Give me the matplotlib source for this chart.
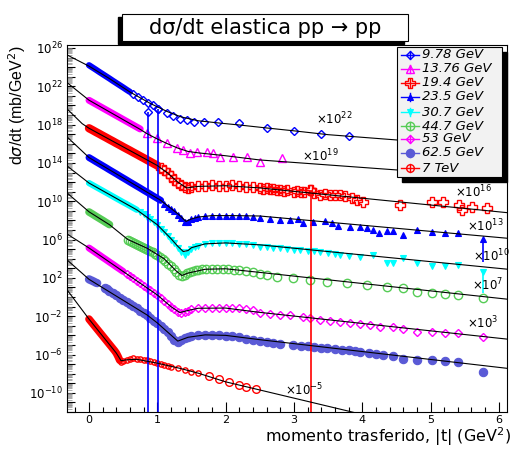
import numpy as np
import matplotlib
matplotlib.use('Agg')
import matplotlib.pyplot as plt
from matplotlib.patches import Rectangle
from matplotlib.lines import Line2D
from matplotlib.ticker import FixedLocator, FuncFormatter, MultipleLocator, LogLocator, NullFormatter

plt.rcParams['font.family'] = ['DejaVu Sans']
plt.rcParams['mathtext.fontset'] = 'dejavusans'

# ---------------- data (|t| in GeV^2, log10 of dsigma/dt incl. scale factor) ----
# 9.78 GeV
t_978_dense = [0.00,0.05,0.10,0.15,0.20,0.25,0.30,0.35,0.40,0.45,0.50,0.55,0.60]
lg_978_dense = [24.20,23.97,23.74,23.50,23.27,23.04,22.81,22.57,22.34,22.11,21.88,21.64,21.41]
t_978 = [0.65,0.72,0.79,0.86,0.94,1.01,1.14,1.23,1.33,1.44,1.54,1.68,1.89,2.20,2.61,3.00,3.40,3.81]
lg_978 = [21.15,20.89,20.57,20.26,20.05,19.63,19.21,18.90,18.60,18.50,18.30,18.28,18.28,18.20,17.65,17.34,17.02,16.81]
fit_t_978 = [-0.32,0.0,0.3,0.6,0.9,1.15,1.35,1.6,1.9,2.2,2.6,3.0,3.5,4.5,6.12]
fit_lg_978 = [25.27,24.1,22.8,21.4,20.2,19.35,18.8,18.4,18.17,17.96,17.65,17.35,16.95,16.4,15.6]

# 13.76 GeV
t_1376_dense = [0,.05,.1,.15,.2,.25,.3,.35,.4,.45,.5,.55,.6,.65,.7,.75]
lg_1376_dense = [20.54,20.34,20.14,19.94,19.74,19.54,19.34,19.14,18.94,18.74,18.54,18.34,18.14,17.94,17.74,17.54]
t_1376 = [0.85,1.0,1.14,1.29,1.38,1.48,1.58,1.73,1.82,1.92,2.11,2.31,2.50,2.83]
lg_1376 = [17.13,16.61,16.08,15.56,15.35,15.04,15.14,15.14,15.04,14.62,14.62,14.62,14.10,14.52]
fit_t_1376 = [-0.32,0.0,0.75,0.85,1.0,1.15,1.3,1.45,1.6,2.0,2.5,4.5,6.12]
fit_lg_1376 = [22.38,20.55,17.5,17.05,16.5,16.0,15.55,15.2,15.05,14.75,14.31,13.27,12.43]

# 19.4 GeV
t_194_dense = [0,.05,.1,.15,.2,.25,.3,.35,.4,.45,.5,.55,.6,.65,.7,.75,.8,.85,.9,.95,1.0]
lg_194_dense = [17.62,17.43,17.23,17.04,16.84,16.65,16.45,16.26,16.06,15.87,15.67,15.48,15.29,15.09,14.90,14.70,14.51,14.31,14.12,13.92,13.73]
t_194 = [1.05,1.1,1.15,1.2,1.25,1.3,1.35,1.4,1.45,1.5,1.6,1.7,1.8,1.9,2.0,2.1,2.2,2.3,2.4,2.5,
         2.55,2.6,2.65,2.7,2.75,2.8,2.85,2.9,3.0,3.05,3.1,3.15,3.24,3.3,3.38,3.45,3.53,3.6,3.68,
         3.75,3.85,3.92,4.01,4.55,5.02,5.18,5.42,5.46,5.61,5.83]
lg_194 = [13.5,13.25,13.0,12.6,12.25,11.95,11.7,11.45,11.4,11.5,11.55,11.6,11.65,11.6,11.6,11.65,11.55,11.5,11.45,11.39,
          11.3,11.35,11.25,11.3,11.18,11.2,11.1,11.15,10.97,11.05,10.95,11.0,11.18,10.85,10.66,10.75,10.66,10.7,10.66,
          10.5,10.35,10.13,9.92,9.61,9.92,9.92,9.61,9.09,9.40,9.30]
fit_t_194 = [-0.32,-0.1,0.0,1.0,1.15,1.3,1.43,1.6,2.0,2.5,3.0,4.0,6.12]
fit_lg_194 = [19.63,18.1,17.62,13.73,12.95,12.0,11.39,11.55,11.62,11.39,11.03,10.32,8.81]

# 23.5 GeV
t_235_dense = [0,.05,.1,.15,.2,.25,.3,.35,.4,.45,.5,.55,.6,.65,.7,.75,.8,.85,.9,.95,1.0,1.05]
lg_235_dense = [14.56,14.35,14.13,13.92,13.71,13.50,13.28,13.07,12.86,12.64,12.43,12.22,12.00,11.79,11.58,11.37,11.15,10.94,10.73,10.51,10.30,10.09]
t_235 = [1.1,1.15,1.2,1.25,1.3,1.35,1.4,1.45,1.5,1.55,1.6,1.7,1.8,1.9,2.0,2.1,2.2,2.3,2.4,
         2.50,2.65,2.80,2.94,3.06,3.13,3.28,3.46,3.56,3.65,3.82,3.97,4.07,4.16,4.25,4.36,4.45,4.60,4.80,5.02,5.21,5.40,5.77]
lg_235 = [9.7,9.45,9.2,8.95,8.6,8.2,7.8,7.85,8.1,8.25,8.35,8.45,8.5,8.5,8.5,8.48,8.45,8.45,8.4,
          8.22,8.15,8.05,8.05,8.12,7.76,7.87,7.94,7.76,7.42,7.28,7.28,7.18,7.00,6.72,6.90,6.90,6.48,7.00,6.83,6.66,6.66,6.06]
fit_t_235 = [-0.32,0.0,1.05,1.2,1.3,1.42,1.5,1.6,1.8,2.1,2.5,6.12]
fit_lg_235 = [16.71,14.56,10.1,9.25,8.7,7.9,8.15,8.35,8.5,8.5,8.46,6.14]

# 30.7 GeV
t_307_dense = [0,.05,.1,.15,.2,.25,.3,.35,.4,.45,.5,.55,.6,.65,.7]
lg_307_dense = [11.90,11.70,11.50,11.30,11.10,10.90,10.70,10.50,10.30,10.10,9.90,9.71,9.51,9.31,9.11]
t_307 = [.75,.8,.85,.9,.95,1.0,1.05,1.1,1.15,1.2,1.25,1.3,1.35,1.4,1.45,1.5,1.55,1.6,1.7,1.8,1.9,2.0,2.1,2.2,2.3,2.4,
         2.5,2.6,2.7,2.8,2.9,3.0,3.09,3.2,3.3,3.38,3.5,3.6,3.68,3.8,3.97,4.16,4.36,4.45,4.60,4.80,5.02,5.21,5.40,5.77]
lg_307 = [8.88,8.65,8.4,8.1,7.8,7.5,7.15,6.8,6.4,6.0,5.6,5.15,4.7,4.4,4.7,5.0,5.2,5.35,5.5,5.6,5.62,5.63,5.62,5.58,5.5,5.45,
          5.26,5.2,5.15,5.09,5.05,4.95,4.91,4.85,4.8,4.74,4.6,4.5,4.39,4.3,4.15,4.39,3.59,3.53,4.05,3.53,3.25,3.25,3.35,2.65]
fit_t_307 = [-0.32,0.0,0.7,1.0,1.2,1.3,1.38,1.45,1.5,1.7,2.0,2.5,6.12]
fit_lg_307 = [13.68,11.9,9.1,7.55,6.1,5.3,4.75,4.85,5.15,5.55,5.65,5.45,2.91]

# 44.7 GeV
t_447_dense = [0,.03,.06,.09,.12,.15,.18,.21,.24,.27,.30]
lg_447_dense = [8.88,8.75,8.62,8.48,8.35,8.22,8.09,7.96,7.82,7.69,7.56]
t_447 = [.57,.6,.63,.66,.69,.72,.75,.78,.81,.84,.87,.9,.93,.96,1.0,1.04,1.08,1.12,1.16,1.2,1.24,1.28,1.32,1.36,1.4,1.44,
         1.48,1.52,1.56,1.6,1.66,1.72,1.8,1.88,1.96,2.04,2.12,2.2,2.3,2.4,2.5,2.6,2.75,2.99,3.24,3.49,3.78,4.07,4.36,4.60,
         4.80,5.02,5.21,5.40,5.77]
lg_447 = [5.96,5.85,5.72,5.6,5.5,5.4,5.3,5.2,5.1,5.0,4.9,4.78,4.65,4.5,4.35,4.2,4.0,3.75,3.5,3.2,2.9,2.6,2.35,2.2,2.3,2.5,
          2.62,2.72,2.8,2.85,2.9,2.93,2.95,2.95,2.93,2.9,2.85,2.78,2.7,2.62,2.4,2.3,2.10,2.00,1.78,1.57,1.47,1.26,1.05,0.95,
          0.53,0.43,0.32,0.22,-0.10]
fit_t_447 = [-0.32,0.0,0.3,0.57,0.85,1.1,1.28,1.36,1.45,1.7,2.0,2.4,6.12]
fit_lg_447 = [10.86,8.9,7.55,6.0,5.1,4.0,2.7,2.25,2.5,2.9,2.95,2.65,-0.22]

# 53 GeV
t_53_dense = [0,.05,.1,.15,.2,.25,.3,.35,.4,.45,.5]
lg_53_dense = [5.12,4.88,4.63,4.39,4.14,3.90,3.65,3.41,3.16,2.92,2.67]
t_53 = [.55,.6,.65,.7,.75,.8,.85,.9,.95,1.0,
        1.05,1.1,1.15,1.2,1.25,1.3,1.35,1.4,1.45,1.5,1.6,1.7,1.8,1.9,2.0,2.1,2.2,2.3,2.4,
        2.50,2.65,2.80,2.94,3.13,3.24,3.38,3.53,3.68,3.82,3.97,4.11,4.26,4.45,4.60,4.80,5.02,5.21,5.40,5.77]
lg_53 = [2.43,2.18,1.94,1.69,1.45,1.20,0.96,0.71,0.47,0.22,
         -0.1,-0.4,-0.7,-1.0,-1.3,-1.55,-1.68,-1.6,-1.45,-1.2,-1.15,-1.14,-1.14,-1.14,-1.15,-1.15,-1.15,-1.25,-1.4,
         -1.63,-1.77,-1.87,-1.87,-2.11,-2.22,-2.39,-2.46,-2.63,-2.74,-2.81,-2.95,-3.09,-3.16,-3.33,-3.61,-3.61,-3.72,-3.78,-4.13]
fit_t_53 = [-0.32,0.0,1.0,1.2,1.33,1.45,1.6,2.0,2.5,6.12]
fit_lg_53 = [6.58,5.12,0.22,-1.0,-1.62,-1.4,-1.17,-1.15,-1.6,-4.39]

# 62.5 GeV
t_625_dense = [0.0,0.02,0.04,0.06,0.08,0.10,0.12]
lg_625_dense = [1.85,1.78,1.72,1.65,1.58,1.50,1.45]
t_625 = [0.23,0.26,0.30,0.35,0.40,0.45,0.50,0.55,0.60,0.65,0.70,0.75,0.80,0.85,0.90,
         0.95,1.00,1.05,1.10,1.15,1.20,1.25,1.30,1.35,1.40,1.45,1.50,1.60,1.70,1.80,1.90,2.00,2.10,2.20,2.30,2.40,2.50,
         2.60,2.70,2.80,2.99,3.10,3.20,3.30,3.40,3.49,3.60,3.70,3.80,3.90,3.97,4.10,4.20,4.30,4.45,4.60,4.80,5.02,5.21,5.40,5.77]
lg_625 = [0.95,0.81,0.63,0.40,0.18,-0.05,-0.28,-0.51,-0.73,-0.96,-1.19,-1.42,-1.65,-1.87,-2.15,
          -2.45,-2.75,-3.0,-3.3,-3.7,-4.1,-4.5,-4.65,-4.5,-4.3,-4.15,-4.05,-3.98,-3.95,-3.95,-3.98,-4.03,-4.1,-4.2,-4.35,-4.45,-4.55,
          -4.65,-4.78,-4.9,-5.00,-5.08,-5.15,-5.2,-5.27,-5.32,-5.42,-5.5,-5.58,-5.65,-5.70,-5.82,-5.92,-6.02,-6.15,-6.46,-6.57,-6.57,-6.67,-6.74,-7.85]
fit_t_625 = [-0.32,0.0,0.85,1.0,1.15,1.3,1.45,1.7,2.0,2.5,6.12]
fit_lg_625 = [3.87,1.85,-1.87,-2.7,-3.65,-4.6,-4.2,-3.95,-4.0,-4.45,-7.44]

# 7 TeV
t_7tev_dense = [0,.025,.05,.075,.1,.125,.15,.175,.2,.225,.25,.275,.3,.325,.35,.375,.4,.425,.45]
lg_7tev_dense = [-2.3,-2.52,-2.74,-2.96,-3.18,-3.4,-3.62,-3.84,-4.06,-4.28,-4.5,-4.72,-4.94,-5.16,-5.38,-5.6,-5.85,-6.2,-6.6]
t_7tev_mid = [.475,.5,.55,.6,.65,.7,.75,.8,.85,.9,.95,1.0,1.05,1.1,1.15,1.2,1.3,1.4,1.5,1.6]
lg_7tev_mid = [-6.75,-6.7,-6.55,-6.45,-6.4,-6.45,-6.5,-6.55,-6.6,-6.7,-6.8,-6.9,-7.0,-7.1,-7.2,-7.3,-7.45,-7.65,-7.8,-7.95]
t_7tev = [1.75,1.9,2.05,2.2,2.3,2.45]
lg_7tev = [-8.25,-8.55,-8.9,-9.2,-9.4,-9.6]
fit_t_7tev = [-0.32,0.0,0.4,0.47,0.55,0.7,1.0,1.33,1.6,2.0,2.5,3.77,4.2]
fit_lg_7tev = [0.74,-2.3,-5.85,-6.65,-6.55,-6.5,-6.9,-7.44,-7.95,-8.85,-9.7,-11.86,-12.6]

# large (lower) error bars: t, log10 top, log10 bottom
err_t_978 = [0.868, 1.014]
err_top_978 = [19.35, 19.60]
err_bot_978 = [-13.0, -13.0]
err_t_194 = [3.25]
err_top_194 = [11.18]
err_bot_194 = [-13.0]
err_t_235 = [5.77]
err_top_235 = [6.06]
err_bot_235 = [3.66]
err_t_307 = [5.77]
err_top_307 = [2.65]
err_bot_307 = [0.43]

legend_labels = ['9.78 GeV', '13.76 GeV', '19.4 GeV', '23.5 GeV', '30.7 GeV',
                 '44.7 GeV', '53 GeV', '62.5 GeV', '7 TeV']
scale_labels = ['22', '19', '16', '13', '10', '7', '3', '-5']
ytick_exps = [26, 22, 18, 14, 10, 6, 2, -2, -6, -10]
xtick_vals = [0, 1, 2, 3, 4, 5, 6]

# ---------------- figure ----------------
W, H = 515, 449
fig = plt.figure(figsize=(W / 100, H / 100), dpi=100)
def fx(x): return x / W
def fy(y): return 1 - y / H

ax = fig.add_axes([fx(67), fy(412), (507 - 67) / W, (412 - 45) / H])
ax.set_yscale('log')
ax.set_xlim(-0.322, 6.12)
ax.set_ylim(10**-12.0, 10**26.31)

styles = [
    dict(color='#0000ff', marker='D', ms=3.8, mfc='none', mew=1.0),
    dict(color='#ff00ff', marker='^', ms=6.0, mfc='none', mew=1.0),
    dict(color='#ff0000', marker='P', ms=6.5, mfc='none', mew=1.0),
    dict(color='#0000ff', marker='^', ms=5.0, mfc='#0000ff', mew=0.8),
    dict(color='#00ffff', marker='v', ms=5.0, mfc='#00ffff', mew=0.8),
    dict(color='#55cc55', marker='o', ms=6.0, mfc='none', mew=1.0),
    dict(color='#ff00ff', marker='D', ms=4.5, mfc='none', mew=1.0),
    dict(color='#5a5ad6', marker='o', ms=6.0, mfc='#5a5ad6', mew=0.8),
    dict(color='#ff0000', marker='o', ms=5.5, mfc='none', mew=1.0),
]
band_lw = [4.5, 5.0, 6.0, 5.0, 4.5, 5.5, 5.0, 6.0, 5.5]
dense = [(t_978_dense, lg_978_dense), (t_1376_dense, lg_1376_dense), (t_194_dense, lg_194_dense),
         (t_235_dense, lg_235_dense), (t_307_dense, lg_307_dense), (t_447_dense, lg_447_dense),
         (t_53_dense, lg_53_dense), (t_625_dense, lg_625_dense), (t_7tev_dense, lg_7tev_dense)]
sparse = [(t_978, lg_978), (t_1376, lg_1376), (t_194, lg_194), (t_235, lg_235), (t_307, lg_307),
          (t_447, lg_447), (t_53, lg_53), (t_625, lg_625), (t_7tev, lg_7tev)]
fits = [(fit_t_978, fit_lg_978), (fit_t_1376, fit_lg_1376), (fit_t_194, fit_lg_194),
        (fit_t_235, fit_lg_235), (fit_t_307, fit_lg_307), (fit_t_447, fit_lg_447),
        (fit_t_53, fit_lg_53), (fit_t_625, fit_lg_625), (fit_t_7tev, fit_lg_7tev)]

for (td, ld), (ts, ls_), (ft, flg), st, bw in zip(dense, sparse, fits, styles, band_lw):
    c = st['color']
    ax.plot(td, 10.0 ** np.array(ld), color=c, lw=bw, solid_capstyle='round', zorder=2)
    ax.plot(ts, 10.0 ** np.array(ls_), ls='none', zorder=2, **st)
    ax.plot(ft, 10.0 ** np.array(flg), color='black', lw=0.8, zorder=3)

ax.plot(t_7tev_mid, 10.0 ** np.array(lg_7tev_mid), ls='none', color='#ff0000', marker='o',
        ms=3.8, mfc='none', mew=1.0, zorder=2)

for et, etop, ebot, c in [(err_t_978, err_top_978, err_bot_978, '#0000ff'),
                          (err_t_194, err_top_194, err_bot_194, '#ff0000'),
                          (err_t_235, err_top_235, err_bot_235, '#0000ff'),
                          (err_t_307, err_top_307, err_bot_307, '#00ffff')]:
    ax.vlines(et, 10.0 ** np.array(ebot), 10.0 ** np.array(etop), color=c, lw=1.2, zorder=2)
ax.plot(err_t_978, 10.0 ** np.array(err_top_978), ls='none', **styles[0])
ax.plot(err_t_194, 10.0 ** np.array(err_top_194), ls='none', **styles[2])

# ticks
ax.yaxis.set_major_locator(FixedLocator(10.0 ** np.arange(-12, 27)))
ax.yaxis.set_major_formatter(FuncFormatter(
    lambda v, p: (r'$\mathregular{10^{%d}}$' % int(round(np.log10(v))))
    if int(round(np.log10(v))) in ytick_exps else ''))
ax.yaxis.set_minor_locator(LogLocator(base=10, subs=np.arange(2, 10), numticks=200))
ax.yaxis.set_minor_formatter(NullFormatter())
ax.xaxis.set_major_locator(FixedLocator(xtick_vals))
ax.xaxis.set_minor_locator(MultipleLocator(0.2))
ax.tick_params(which='both', direction='in', top=False, right=False, labelsize=8.5)
ax.tick_params(axis='x', which='major', length=7.2, width=0.8, pad=2, labelsize=8)
ax.tick_params(axis='x', which='minor', length=3.6, width=0.8)
ax.tick_params(axis='y', which='major', length=5.5, width=0.8, pad=3)
ax.tick_params(axis='y', which='minor', length=3.5, width=0.5, color='0.55')
for sp in ax.spines.values():
    sp.set_linewidth(0.8)

# scale-factor annotations
scale_pos = [(316, 124), (302, 161), (455, 197), (467, 231), (473, 261), (472, 290), (467, 328), (285, 395)]
for lab, (px_, py_) in zip(scale_labels, scale_pos):
    fig.text(fx(px_), fy(py_), r'$\times\mathregular{10^{%s}}$' % lab, fontsize=8.5,
             ha='left', va='baseline', zorder=4)

# axis titles
fig.text(fx(17), fy(46), r'd$\sigma$/dt (mb/GeV$^{2}$)', rotation=90, ha='center', va='top',
         fontsize=11.5, family=['Liberation Sans', 'DejaVu Sans'])
fig.text(fx(511), fy(448), r'momento trasferido, |t| (GeV$^{2}$)', ha='right', va='bottom', fontsize=11.5)

# title box
fig.add_artist(Rectangle((fx(118), fy(44)), (408 - 122) / W, (41 - 14) / H, transform=fig.transFigure,
                         facecolor='black', edgecolor='black', zorder=4))
fig.add_artist(Rectangle((fx(122), fy(41)), (408 - 122) / W, (41 - 14) / H, transform=fig.transFigure,
                         facecolor='white', edgecolor='black', lw=0.8, zorder=5))
fig.text(fx(265), fy(28), 'd\u03c3/dt elastica pp \u2192 pp', ha='center', va='center', fontsize=15, zorder=6)

# legend box
fig.add_artist(Rectangle((fx(402), fy(182)), (502 - 397) / W, (177 - 47) / H, transform=fig.transFigure,
                         facecolor='black', edgecolor='black', zorder=4))
fig.add_artist(Rectangle((fx(397), fy(177)), (502 - 397) / W, (177 - 47) / H, transform=fig.transFigure,
                         facecolor='#f2f2f2', edgecolor='black', lw=0.8, zorder=5))
leg_y = [55, 69, 83, 97, 112, 126, 139, 153, 168]
for lab, st, yy in zip(legend_labels, styles, leg_y):
    c = st['color']
    fig.add_artist(Line2D([fx(401), fx(419)], [fy(yy), fy(yy)], transform=fig.transFigure, color=c, lw=1, zorder=6))
    fig.add_artist(Line2D([fx(410), fx(410)], [fy(yy - 4), fy(yy + 4)], transform=fig.transFigure, color=c, lw=1, zorder=6))
    fig.add_artist(Line2D([fx(410)], [fy(yy)], transform=fig.transFigure, ls='none', zorder=7, **st))
    fig.text(fx(422), fy(yy), lab, style='italic', fontsize=9.5, ha='left', va='center', zorder=7)

fig.savefig('out.png', dpi=100)
